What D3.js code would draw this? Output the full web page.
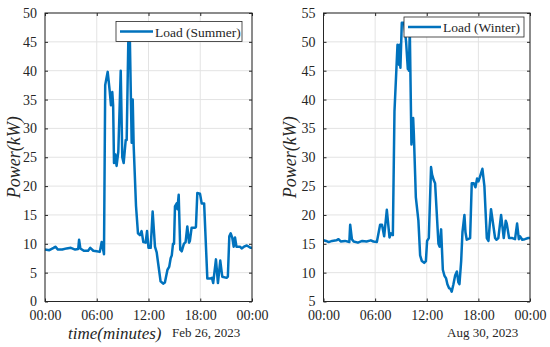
<!DOCTYPE html>
<html lang="en">
<head>
<meta charset="utf-8">
<title>Load</title>
<script src="https://d3js.org/d3.v7.min.js"></script>
<style>
body { margin:0; background:#fff; }
svg text { font-family: "Liberation Serif", "Times New Roman", Times, "DejaVu Serif", serif; fill:#262626; }
.grid line { stroke:#e3e3e3; stroke-width:1; }
.frame { fill:none; stroke:#262626; stroke-width:1; }
.load { fill:none; stroke:#0072BD; stroke-width:2.5; stroke-linejoin:round; }
</style>
</head>
<body>
<div id="chart"></div>
<script>
var SERIF = "'Liberation Serif', 'Times New Roman', Times, 'DejaVu Serif', serif";

// hours of day for x ticks and their labels
var xTicks = [0, 6, 12, 18, 24];
var xTickLabels = ["00:00", "06:00", "12:00", "18:00", "00:00"];
var summerYTicks = [0, 5, 10, 15, 20, 25, 30, 35, 40, 45, 50];
var winterYTicks = [5, 10, 15, 20, 25, 30, 35, 40, 45, 50, 55];

// summer load (hour, kW)
var summerHours = [0, 0.5, 1.0, 1.2, 1.5, 2.0, 2.5, 3.0, 3.5, 3.85, 3.95, 4.1, 4.5, 5.0, 5.25, 5.6, 6.0, 6.35, 6.57, 6.84,
  6.98, 7.1, 7.27, 7.5, 7.65, 7.8, 7.9, 8.0, 8.15, 8.3, 8.5, 8.78, 8.96, 9.12, 9.36, 9.47, 9.68, 9.82, 10.05, 10.17, 10.28,
  10.55, 10.78, 11.0, 11.2, 11.4, 11.67, 11.83, 12.0, 12.25, 12.48, 12.75, 12.95, 13.13, 13.4, 13.7, 13.9, 14.2, 14.4,
  14.57, 14.7, 14.84, 14.96, 15.07, 15.27, 15.35, 15.5, 15.68, 15.85, 16.1, 16.3, 16.5, 16.7, 16.8, 17.0, 17.39, 17.5,
  17.66, 17.97, 18.17, 18.45, 18.82, 19.2, 19.36, 19.5, 19.82, 20.05, 20.32, 20.55, 21.06, 21.2, 21.37, 21.53, 21.72,
  21.88, 22.03, 22.2, 22.6, 22.8, 23.07, 23.4, 23.85, 24];
var summerLoad = [9.0, 8.9, 9.3, 9.5, 9.0, 9.0, 9.2, 9.3, 9.0, 9.1, 10.7, 9.2, 8.8, 8.8, 9.3, 8.8, 8.7, 8.6, 10.3, 8.2,
  37.5, 38.5, 39.8, 36.5, 34.0, 36.3, 34.0, 24.0, 25.5, 23.5, 26.0, 40.0, 25.0, 24.0, 28.0, 28.0, 47.0, 47.0, 27.5, 35.0, 27.0,
  16.6, 11.8, 11.5, 12.2, 10.3, 10.2, 12.2, 9.3, 9.3, 15.6, 9.5, 8.5, 6.5, 3.5, 3.1, 3.3, 5.5, 6.0,
  7.5, 8.0, 10.0, 10.0, 16.5, 17.0, 16.0, 18.5, 9.0, 8.7, 10.0, 10.3, 13.0, 10.2, 10.5, 12.8, 12.8, 12.9,
  18.8, 18.7, 17.0, 17.0, 4.0, 4.0, 4.1, 3.2, 7.3, 3.2, 7.1, 4.3, 4.1, 4.3, 11.3, 11.8, 11.0,
  9.5, 11.1, 9.5, 9.5, 9.2, 9.5, 9.7, 9.3, 9.3];

// winter load (hour, kW)
var winterHours = [0, 0.3, 0.6, 1.0, 1.5, 1.74, 2.0, 2.5, 3.0, 3.1, 3.3, 3.5, 4.0, 4.5, 5.0, 5.5, 5.8, 6.2, 6.58, 6.8,
  7.05, 7.36, 7.67, 7.85, 8.06, 8.25, 8.6, 8.79, 8.85, 8.94, 9.1, 9.37, 9.6, 9.8, 9.86, 9.92, 10.03, 10.22, 10.42, 10.5,
  10.65, 10.73, 11.03, 11.23, 11.43, 11.7, 11.9, 12.04, 12.24, 12.5, 12.62, 12.82, 12.97, 13.36, 13.5, 13.67, 13.87,
  14.05, 14.25, 14.4, 14.6, 14.75, 14.9, 15.1, 15.3, 15.5, 15.68, 15.8, 16.0, 16.15, 16.38, 16.5, 16.65, 17.04, 17.23,
  17.47, 17.66, 17.85, 18.0, 18.16, 18.47, 18.7, 18.98, 19.17, 19.47, 19.94, 20.1, 20.32, 20.64, 20.95, 21.18, 21.3,
  21.57, 21.95, 22.26, 22.5, 22.7, 22.85, 23.1, 23.4, 23.8, 24];
var winterLoad = [15.6, 15.5, 15.3, 15.5, 15.6, 15.8, 15.4, 15.5, 15.3, 18.3, 15.8, 15.4, 15.2, 15.5, 15.4, 15.6, 15.4, 15.3, 18.3, 18.3,
  16.3, 20.9, 16.1, 16.8, 16.5, 38.0, 49.5, 46.0, 49.5, 45.5, 53.3, 53.3, 50.0, 45.3, 46.0, 45.0, 52.0, 32.2, 36.8, 34.0,
  27.0, 23.1, 19.0, 13.0, 12.0, 11.7, 12.0, 15.5, 16.0, 28.3, 27.0, 26.0, 25.5, 15.0, 14.5, 17.5, 10.5,
  9.5, 9.0, 8.0, 7.3, 7.2, 6.7, 8.0, 9.5, 10.2, 8.3, 8.0, 12.0, 17.0, 20.0, 17.0, 15.7, 16.0, 25.5,
  25.5, 24.8, 26.3, 25.8, 26.5, 28.0, 25.0, 16.0, 15.5, 21.0, 16.0, 15.7, 16.0, 20.0, 16.0, 19.0, 18.5,
  16.0, 16.0, 15.8, 18.5, 15.8, 16.3, 15.7, 15.8, 16.0, 16.0];

var svg = d3.select("#chart").append("svg").attr("width", 550).attr("height", 347)
  .style("font-family", SERIF);

function drawPanel(opt) {
  var x = d3.scaleLinear().domain([0, 24]).range([opt.left, opt.right]);
  var y = d3.scaleLinear().domain(opt.yDomain).range([opt.bottom, opt.top]);
  var g = svg.append("g");

  // grid
  var grid = g.append("g").attr("class", "grid");
  grid.selectAll(".gx").data(xTicks).enter().append("line")
    .attr("x1", d => x(d)).attr("x2", d => x(d)).attr("y1", opt.top).attr("y2", opt.bottom);
  grid.selectAll(".gy").data(opt.yTicks).enter().append("line")
    .attr("x1", opt.left).attr("x2", opt.right).attr("y1", d => y(d)).attr("y2", d => y(d));

  // line
  var data = opt.hours.map((h, i) => [h, opt.values[i]]);
  g.append("path").datum(data).attr("class", "load")
    .attr("d", d3.line().x(d => x(d[0])).y(d => y(d[1])));

  // axes with inward ticks
  var axB = d3.axisBottom(x).tickValues(xTicks).tickSize(-3).tickPadding(9)
    .tickFormat((d, i) => xTickLabels[i]);
  var axL = d3.axisLeft(y).tickValues(opt.yTicks).tickSize(-3).tickPadding(8);
  var gb = g.append("g").attr("transform", "translate(0," + opt.bottom + ")").call(axB);
  var gl = g.append("g").attr("transform", "translate(" + opt.left + ",0)").call(axL);
  var gt = g.append("g").attr("transform", "translate(0," + opt.top + ")")
    .call(d3.axisTop(x).tickValues(xTicks).tickSize(-3).tickFormat(""));
  var gr = g.append("g").attr("transform", "translate(" + opt.right + ",0)")
    .call(d3.axisRight(y).tickValues(opt.yTicks).tickSize(-3).tickFormat(""));
  [gb, gl, gt, gr].forEach(function (a) {
    a.attr("font-family", null).attr("font-size", null);
    a.select(".domain").remove();
    a.selectAll("line").attr("stroke", "#262626");
    a.selectAll("text").style("font-family", SERIF).style("font-size", "14px").attr("fill", "#262626");
  });
  g.append("rect").attr("class", "frame")
    .attr("x", opt.left).attr("y", opt.top).attr("width", opt.right - opt.left).attr("height", opt.bottom - opt.top);

  // y label
  g.append("text").attr("transform", "translate(" + opt.ylabelX + "," + ((opt.top + opt.bottom) / 2) + ") rotate(-90)")
    .attr("text-anchor", "middle").style("font-family", SERIF).style("font-size", "18px").style("font-style", "italic")
    .text("Power(kW)");

  // date label
  g.append("text").attr("x", opt.dateX).attr("y", 337).style("font-family", SERIF).style("font-size", "13px").text(opt.date);

  // legend
  var lg = g.append("g");
  lg.append("rect").attr("x", opt.legX).attr("y", opt.legY).attr("width", opt.legW).attr("height", 20)
    .attr("fill", "#fff").attr("stroke", "#262626").attr("stroke-width", 0.8);
  lg.append("line").attr("x1", opt.legX + 4).attr("x2", opt.legX + 37)
    .attr("y1", opt.legY + 10).attr("y2", opt.legY + 10)
    .attr("stroke", "#0072BD").attr("stroke-width", 2.5);
  lg.append("text").attr("x", opt.legX + 39).attr("y", opt.legY + 15)
    .style("font-family", SERIF).style("font-size", "13.5px").text(opt.legend);
}

drawPanel({
  left: 45, right: 252, top: 13, bottom: 301.5, yDomain: [0, 50], yTicks: summerYTicks,
  hours: summerHours, values: summerLoad, ylabelX: 20, date: "Feb 26, 2023", dateX: 172,
  legX: 116, legY: 21.5, legW: 126, legend: "Load (Summer)"
});
drawPanel({
  left: 323.5, right: 530, top: 13, bottom: 301.5, yDomain: [5, 55], yTicks: winterYTicks,
  hours: winterHours, values: winterLoad, ylabelX: 296, date: "Aug 30, 2023", dateX: 447,
  legX: 404, legY: 17, legW: 120, legend: "Load (Winter)"
});

svg.append("text").attr("x", 68).attr("y", 339).style("font-family", SERIF)
  .style("font-size", "17px").style("font-style", "italic")
  .text("time(minutes)");
</script>
</body>
</html>
